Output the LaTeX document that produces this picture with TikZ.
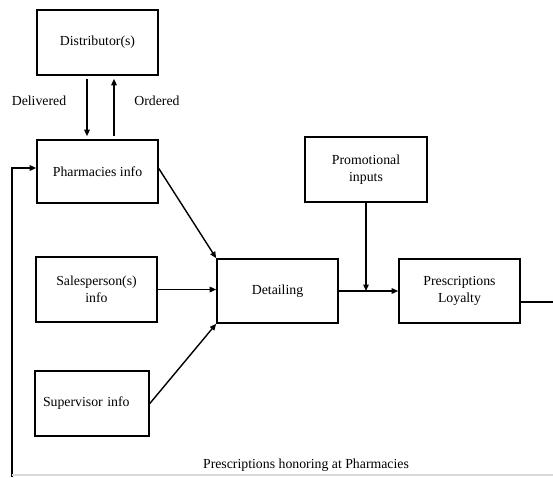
\documentclass[tikz,border=0pt]{standalone}
\usepackage{fontspec}
\setmainfont{Liberation Serif}
\usetikzlibrary{arrows.meta}
\begin{document}
\begin{tikzpicture}[x=1pt,y=-1pt,
  box/.style={draw, line width=1.6pt, align=center, inner sep=0pt,
    font=\fontsize{13.8}{16.5}\selectfont},
  lbl/.style={font=\fontsize{13.8}{16.5}\selectfont},
  flow/.style={line width=1.4pt, -{Triangle[length=6.5pt,width=5.5pt]}},
  wire/.style={line width=1.4pt}]
\useasboundingbox (0,0) rectangle (553,477);
% boxes
\node[box, minimum width=121pt, minimum height=65pt] (dist) at (97.5,42.5) {Distributor(s)};
\node[box, minimum width=121pt, minimum height=63pt] (ph) at (97.5,171.5) {Pharmacies info};
\node[box, minimum width=121pt, minimum height=65pt] (sal) at (96.5,289.5) {Salesperson(s)\\info};
\node[box, minimum width=114pt, minimum height=65pt, text width=98pt, align=left] (sup) at (92,403.5) {Supervisor info};
\node[box, minimum width=121pt, minimum height=64pt] (det) at (277.5,291) {Detailing};
\node[box, minimum width=122pt, minimum height=65pt] (promo) at (366,169.5) {Promotional\\inputs};
\node[box, minimum width=121pt, minimum height=64pt] (pres) at (459.5,291) {Prescriptions\\Loyalty};
% labels
\node[lbl] (deliv) at (39,101) {Delivered};
\node[lbl] (ord) at (157,101) {Ordered};
\node[lbl] (hon) at (306,465) {Prescriptions honoring at Pharmacies};
% distributor exchange
\draw[flow, shorten <=3pt, shorten >=3pt] ([xshift=-10.5pt]dist.south) -- ([xshift=-10.5pt]ph.north);
\draw[flow, shorten <=3pt, shorten >=3pt] ([xshift=16.5pt]ph.north) -- ([xshift=16.5pt]dist.south);
% inputs to detailing
\draw[flow] ([yshift=3pt]ph.east) -- (det.north west);
\draw[flow] (sal.east) -- (sal.east -| det.west);
\draw[flow] (sup.east) -- (det.south west);
% detailing to loyalty, with promotional inputs joining
\coordinate (join) at (promo.south |- det.east);
\draw[flow] (det.east) -- (pres.west);
\draw[flow] (promo.south) -- (join);
% feedback loop
\coordinate (outR) at (553,291+11);
\draw[wire] (pres.east |- outR) -- (outR);
\coordinate (fb) at (12,477);
\draw[flow] (fb) |- ([yshift=3.5pt]ph.west);
\coordinate (baseL) at (12,475);
\coordinate (baseR) at (553,475);
\draw[gray!30, line width=1.2pt] (baseL) -- (baseR);
\end{tikzpicture}
\end{document}
